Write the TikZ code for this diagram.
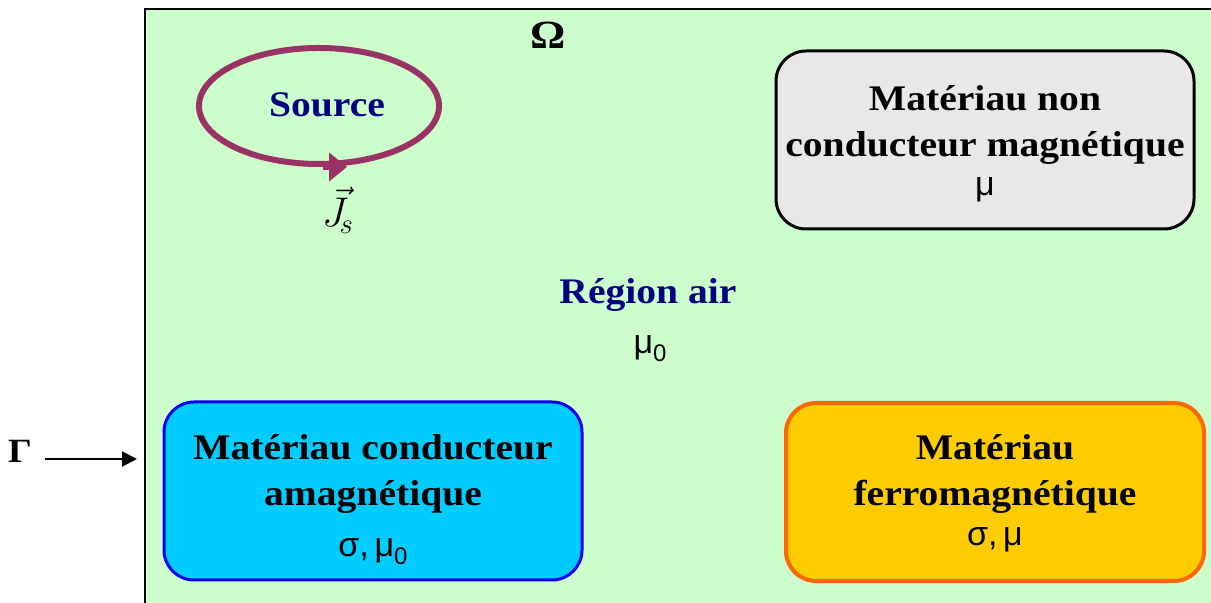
\documentclass[tikz,border=0pt]{standalone}
\usepackage{fontspec}
\setmainfont{Liberation Serif}[FakeStretch=1.1]
\newfontfamily\grk{Liberation Sans}
\usetikzlibrary{shapes.geometric,arrows.meta}
\definecolor{airgreen}{HTML}{CCFFCC}
\definecolor{loopred}{HTML}{993366}
\definecolor{navytxt}{HTML}{000080}
\definecolor{greyfill}{HTML}{E8E8E8}
\definecolor{cyanfill}{HTML}{00CCFF}
\definecolor{goldfill}{HTML}{FFCC00}
\definecolor{orangeline}{HTML}{FF6600}
\newcommand\gk[1]{{\grk\mdseries\fontsize{17}{23}\selectfont #1}}
\newcommand\subzero{\raisebox{-4pt}{\fontsize{12}{12}\selectfont 0}}
\tikzset{
    matbox/.style={
        draw,
        rounded corners=15pt,
        line width=1.5pt,
        minimum width=209pt,
        minimum height=89pt
    },
    boxtext/.style={
        align=center,
        inner sep=0pt,
        font=\bfseries\fontsize{18}{23}\selectfont
    },
    bluetext/.style={
        text=navytxt,
        inner sep=0pt,
        font=\bfseries\fontsize{18}{23}\selectfont
    },
    currentloop/.style={
        ellipse,
        draw=loopred,
        line width=3pt,
        minimum width=120pt,
        minimum height=58pt
    },
    line/.style={
        line width=1pt,
        -{Triangle[length=7.5pt,width=7.5pt]}
    }
}

\begin{document}
\begin{tikzpicture}[x=0.5pt,y=-0.5pt]
\useasboundingbox (0,0) rectangle (1211,603);

% air region
\draw[line width=1pt,fill=airgreen] (145,9) rectangle (1220,615);
\node[inner sep=0pt,font=\bfseries\fontsize{20}{20}\selectfont] (omega) at (548,35) {Ω};

% source loop
\node[currentloop] (srcloop) at (319,106) {};
\node[bluetext] (source) at (327,105) {Source};
\draw[draw=loopred,line width=3pt,-{Triangle[length=9pt,width=14pt]}]
    ([xshift=2pt]srcloop.south) -- ([xshift=14pt]srcloop.south);
\node[inner sep=0pt,font=\fontsize{22}{22}\selectfont] (js) at (338,210) {$\vec{J}_{\!s}$};

\node[bluetext] (air) at (648,295) {Région air};
\node[inner sep=0pt] (airmu) at (650,349) {\gk{μ\subzero}};

% materials
\node[matbox,fill=greyfill,draw=black] (nonmag) at (985,140) {};
\node[boxtext] (nonmagtxt) at (985,144) {Matériau non\\conducteur magnétique\\[-3.5pt]\gk{μ}};

\node[matbox,fill=cyanfill,draw=blue] (cond) at (373,491) {};
\node[boxtext] (condtxt) at (373,500) {Matériau conducteur\\amagnétique\\[2.5pt]\gk{σ,\,μ\subzero}};

\node[matbox,fill=goldfill,draw=orangeline,line width=2pt] (ferro) at (995,492) {};
\node[boxtext] (ferrotxt) at (995,493) {Matériau\\ferromagnétique\\[-3pt]\gk{σ,\,μ}};

% boundary
\node[inner sep=0pt,font=\bfseries\fontsize{17}{17}\selectfont] (gamma) at (20,451) {Γ};
\coordinate (bound) at (137,459);
\draw[line] ([xshift=6.5pt]gamma.east |- bound) -- (bound);

\end{tikzpicture}
\end{document}
